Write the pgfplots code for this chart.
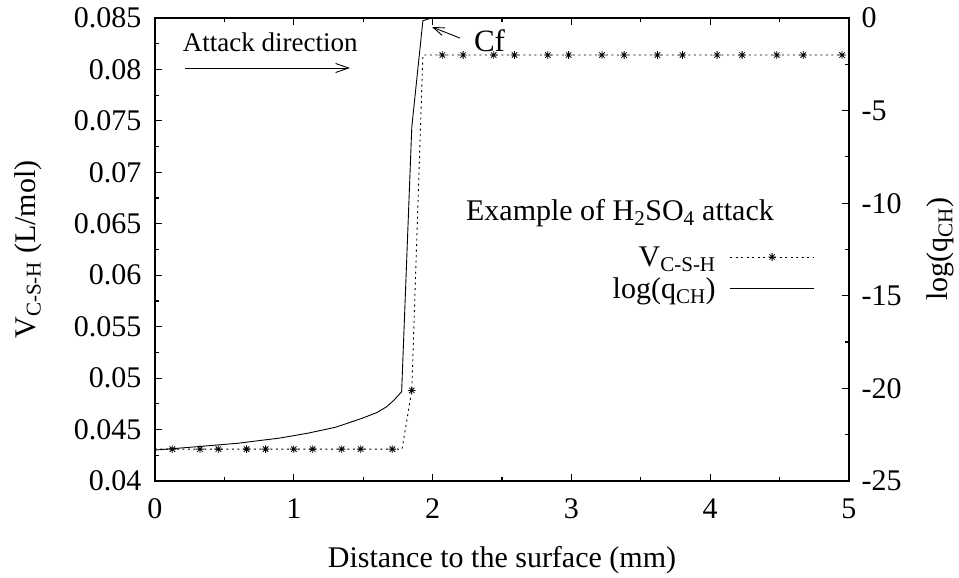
\documentclass[border=0pt]{standalone}
\usepackage{fontspec}
\setmainfont{Liberation Serif}
\usepackage{pgfplots}
\pgfplotsset{compat=1.18}
\usetikzlibrary{arrows.meta}

% gnuplot point type 3: plus and cross together
\pgfdeclareplotmark{gpstar}{%
  \pgfpathmoveto{\pgfqpoint{-\pgfplotmarksize}{0pt}}%
  \pgfpathlineto{\pgfqpoint{\pgfplotmarksize}{0pt}}%
  \pgfpathmoveto{\pgfqpoint{0pt}{-\pgfplotmarksize}}%
  \pgfpathlineto{\pgfqpoint{0pt}{\pgfplotmarksize}}%
  \pgfpathmoveto{\pgfqpoint{-0.7071\pgfplotmarksize}{-0.7071\pgfplotmarksize}}%
  \pgfpathlineto{\pgfqpoint{0.7071\pgfplotmarksize}{0.7071\pgfplotmarksize}}%
  \pgfpathmoveto{\pgfqpoint{-0.7071\pgfplotmarksize}{0.7071\pgfplotmarksize}}%
  \pgfpathlineto{\pgfqpoint{0.7071\pgfplotmarksize}{-0.7071\pgfplotmarksize}}%
  \pgfusepathqstroke}

\newcommand{\bigfont}{\fontsize{30}{34}\selectfont}

\pgfplotsset{
  gpaxis/.style={
    scale only axis,
    width=694pt, height=463pt,
    xmin=0, xmax=5,
    tick align=inside,
    major tick length=7pt,
    minor tick length=4pt,
    every tick/.style={black, line width=1.2pt},
    axis line style={line width=1.6pt},
    tick label style={font=\bigfont},
    label style={font=\bigfont},
    /pgf/number format/assume math mode=true,
  },
  vcsh/.style={black, line width=0.9pt, dash pattern=on 2pt off 3.5pt},
  vmark/.style={black, only marks, mark=gpstar, mark size=3.8pt,
    mark options={solid, line width=0.8pt}},
}

\begin{document}
\begin{tikzpicture}[font=\bigfont]
\begin{axis}[
  gpaxis,
  ymin=0.04, ymax=0.085,
  scaled y ticks=false,
  xtick={0,1,2,3,4,5},
  minor x tick num=1,
  xtick pos=both,
  ytick={0.04,0.045,0.05,0.055,0.06,0.065,0.07,0.075,0.08,0.085},
  yticklabels={0.04,0.045,0.05,0.055,0.06,0.065,0.07,0.075,0.08,0.085},
  minor y tick num=1,
  ytick pos=left,
  xticklabel style={yshift=-14pt},
  yticklabel style={xshift=-10pt},
  xlabel={Distance to the surface (mm)},
  ylabel={V\textsubscript{C-S-H} (L/mol)},
  xlabel style={at={(axis description cs:0.5,-0.171)}, anchor=center},
  ylabel style={at={(axis description cs:-0.183,0.5)}, anchor=center},
]
% V_C-S-H line
\addplot[vcsh] coordinates {
  (0,0.0431) (0.125,0.0431) (0.324,0.0431) (0.456,0.0431) (0.66,0.0431)
  (0.797,0.0431) (1.0,0.0431) (1.136,0.0431) (1.345,0.0431) (1.482,0.0431)
  (1.71,0.0431) (1.78,0.0431) (1.85,0.0488) (1.93,0.0814)
  (2.07,0.0814) (2.22,0.0814) (2.44,0.0814) (2.59,0.0814) (2.83,0.0814)
  (2.98,0.0814) (3.22,0.0814) (3.38,0.0814) (3.62,0.0814) (3.80,0.0814)
  (4.05,0.0814) (4.23,0.0814) (4.48,0.0814) (4.67,0.0814) (4.95,0.0814)
  (5,0.0814)
};
% V_C-S-H marks
\addplot[vmark] coordinates {
  (0.125,0.0431) (0.324,0.0431) (0.456,0.0431) (0.66,0.0431)
  (0.797,0.0431) (1.0,0.0431) (1.136,0.0431) (1.345,0.0431) (1.482,0.0431)
  (1.71,0.0431) (1.85,0.0488)
  (2.07,0.0814) (2.22,0.0814) (2.44,0.0814) (2.59,0.0814) (2.83,0.0814)
  (2.98,0.0814) (3.22,0.0814) (3.38,0.0814) (3.62,0.0814) (3.80,0.0814)
  (4.05,0.0814) (4.23,0.0814) (4.48,0.0814) (4.67,0.0814) (4.95,0.0814)
};
\node[font=\fontsize{27}{31}\selectfont] at (axis description cs:0.166,0.948) {Attack direction};
\draw[line width=0.9pt, -{Straight Barb[length=13pt,width=9pt,line width=0.9pt]}]
  (axis cs:0.216,0.08014) -- (axis cs:1.405,0.08014);
\draw[line width=0.9pt, -{Straight Barb[length=11pt,width=8pt,line width=0.9pt]}]
  (axis cs:2.197,0.08305) -- (axis cs:1.996,0.08412);
\node[font=\fontsize{31}{35}\selectfont] at (axis cs:2.41,0.0828) {Cf};
\node at (axis description cs:0.670,0.579) {Example of H\textsubscript{2}SO\textsubscript{4} attack};
\end{axis}

\begin{axis}[
  gpaxis,
  ymin=-25, ymax=0,
  hide x axis,
  axis y line*=right,
  ytick={-25,-20,-15,-10,-5,0},
  yticklabels={-25,-20,-15,-10,-5,0},
  minor y tick num=1,
  yticklabel style={xshift=9pt},
  ylabel={log(q\textsubscript{CH})},
  ylabel style={at={(axis description cs:1.131,0.5)}, anchor=center},
  legend plot pos=right,
  legend cell align=right,
  legend style={draw=none, fill=none, font=\bigfont,
    at={(axis description cs:0.955,0.449)}, anchor=east,
    row sep=6pt, column sep=12pt},
  legend image code/.code={%
    \draw[mark repeat=2,mark phase=2,#1] plot coordinates {(0pt,0pt) (42pt,0pt) (84pt,0pt)};},
]
\addlegendimage{vcsh, mark=gpstar, mark size=3.8pt, mark options={solid, line width=0.8pt}}
\addlegendentry{V\textsubscript{C-S-H}}
\addplot[black, line width=0.9pt] coordinates {
  (0,-23.33) (0.3,-23.15) (0.6,-22.96) (0.9,-22.68) (1.1,-22.42)
  (1.3,-22.1) (1.49,-21.62) (1.6,-21.3) (1.669,-20.99) (1.72,-20.65)
  (1.777,-20.18) (1.85,-5.9) (1.93,-0.15) (1.99,0)
};
\addlegendentry{log(q\textsubscript{CH})}
\end{axis}
\pgfresetboundingbox
\path[use as bounding box] (-155pt,-97pt) rectangle (804pt,481pt);
\end{tikzpicture}
\end{document}
